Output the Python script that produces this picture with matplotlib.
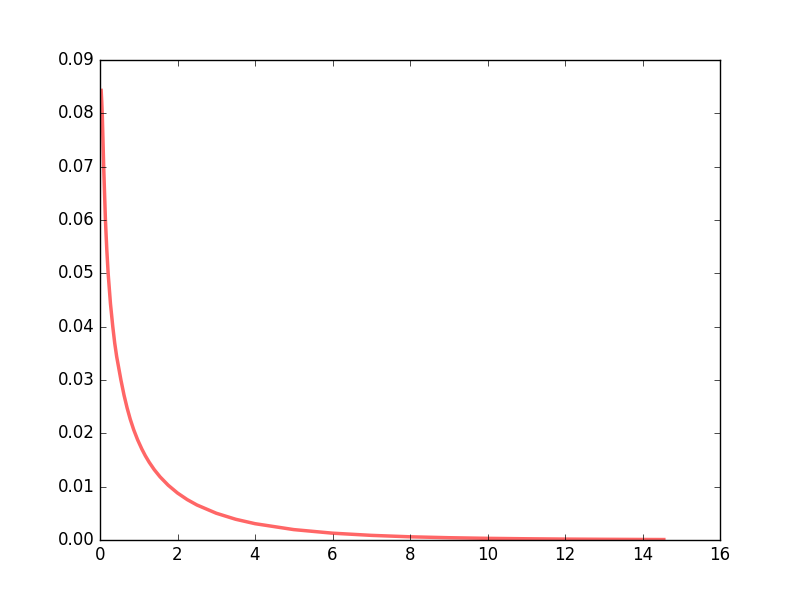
import matplotlib
matplotlib.use("Agg")
import matplotlib.pyplot as plt

# values
x_vals = [0.03, 0.045, 0.06, 0.095, 0.14, 0.175, 0.21, 0.27, 0.33, 0.38,
          0.43, 0.54, 0.62, 0.70, 0.78, 0.87, 0.97, 1.08, 1.17, 1.27,
          1.4, 1.55, 1.76, 2.0, 2.25, 2.5, 3.0, 3.5, 4.0, 5.0,
          6.0, 7.0, 8.0, 9.0, 10.0, 11.0, 12.0, 13.0, 14.0, 14.55]
y_vals = [0.0843, 0.0822, 0.0795, 0.0700, 0.0600, 0.0545, 0.0500, 0.0443, 0.0400, 0.0369,
          0.0344, 0.0300, 0.02716, 0.02475, 0.02266, 0.02067, 0.01880, 0.01705, 0.01579, 0.01457,
          0.01319, 0.01184, 0.01027, 0.00881, 0.00758, 0.00657, 0.00502, 0.00389, 0.00306, 0.00195,
          0.00128, 0.00087, 0.00060, 0.00043, 0.00031, 0.00023, 0.00017, 0.00013, 0.00010, 0.000085]

plt.style.use("classic")
fig = plt.figure(figsize=(8, 6), dpi=100, facecolor="white")
ax = fig.add_subplot(111)

ax.plot(x_vals, y_vals, "r-", lw=2.5, alpha=0.6)
ax.set_xlim(0, 16)
ax.set_ylim(0, 0.09)

fig.savefig("out.png", dpi=100, facecolor="white")
